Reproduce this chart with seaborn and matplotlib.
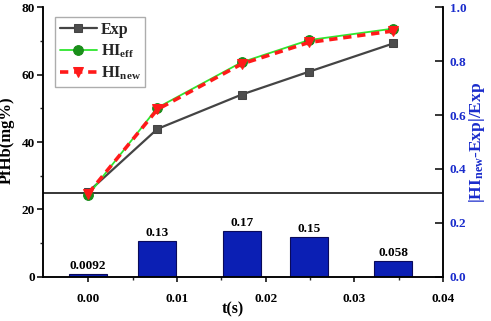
import matplotlib
matplotlib.use("Agg")
import matplotlib.pyplot as plt
import seaborn as sns
import numpy as np
import pandas as pd
from matplotlib.ticker import MultipleLocator, FixedLocator

# ---- data ----
t = [0.0, 0.0078, 0.0173, 0.0249, 0.0344]
exp_vals = [25.2, 43.9, 54.1, 60.9, 69.3]
hi_eff = [24.3, 50.2, 63.7, 70.3, 73.7]
hi_new = [24.7, 49.7, 63.2, 69.6, 73.0]
rel_err = [0.0092, 0.133, 0.171, 0.147, 0.058]
rel_err_labels = ["0.0092", "0.13", "0.17", "0.15", "0.058"]
separator_level = 25
left_ticks = [0, 20, 40, 60, 80]
right_ticks = [0.0, 0.2, 0.4, 0.6, 0.8, 1.0]
x_ticks = [0.00, 0.01, 0.02, 0.03, 0.04]

sns.set_theme(style="ticks")
plt.rcParams['font.family'] = ['Liberation Serif', 'DejaVu Serif']
plt.rcParams['font.weight'] = 'bold'
plt.rcParams['mathtext.fontset'] = 'custom'
plt.rcParams['mathtext.rm'] = 'Liberation Serif:bold'
plt.rcParams['mathtext.it'] = 'Liberation Serif:bold'
plt.rcParams['mathtext.bf'] = 'Liberation Serif:bold'
plt.rcParams['mathtext.default'] = 'bf'

fig = plt.figure(figsize=(4.91, 3.21), dpi=100)
ax = fig.add_axes([0.0876, 0.138, 0.8147, 0.839])
ax2 = ax.twinx()

blue = '#1a2ccc'

df = pd.DataFrame({'t': t, 'Exp': exp_vals, 'HIeff': hi_eff, 'HInew': hi_new, 'err': rel_err})

# bars on the right axis
bar_w = 0.0043
sns.barplot(data=df, x='t', y='err', ax=ax2, native_scale=True,
            width=bar_w / np.min(np.diff(t)), color='#0b1fb4',
            edgecolor='#0a0a5a', linewidth=0.8, saturation=1, zorder=1)
for xi, yi, lab in zip(t, rel_err, rel_err_labels):
    ax2.annotate(lab, (xi, yi), xytext=(0, 1.5), textcoords='offset points',
                 ha='center', va='bottom', fontsize=9.5, fontweight='bold', color='black')

# lines on the left axis
sns.lineplot(data=df, x='t', y='Exp', ax=ax, color='#444444', linewidth=1.6,
             marker='s', markersize=6, markeredgecolor='#444444',
             markerfacecolor='#4d4d4d', label='Exp', zorder=3)
sns.lineplot(data=df, x='t', y='HIeff', ax=ax, color='#2ee62e', linewidth=1.3,
             marker='o', markersize=7, markeredgecolor='#178a17',
             markerfacecolor='#1a8f1a', label='HI$_{eff}$', zorder=4)
sns.lineplot(data=df, x='t', y='HInew', ax=ax, color='#ff1a1a', linewidth=2.6,
             linestyle=(0, (2.3, 1.6)), marker='v', markersize=7.5,
             markeredgecolor='#ff1a1a', markerfacecolor='#ff1a1a',
             label='HI$_{new}$', zorder=5)
ax.axhline(separator_level, color='black', linewidth=1.1, zorder=2)

# put line axis above bar axis
ax.set_zorder(ax2.get_zorder() + 1)
ax.patch.set_visible(False)

ax.set_xlim(-0.0051, 0.04)
ax.set_ylim(0, 80)
ax2.set_ylim(0, 1.0)
ax.xaxis.set_major_locator(FixedLocator(x_ticks))
ax.xaxis.set_minor_locator(FixedLocator([0.005, 0.015, 0.025, 0.035]))
ax.set_xticklabels([f"{v:.2f}" for v in x_ticks])
ax.yaxis.set_major_locator(FixedLocator(left_ticks))
ax.yaxis.set_minor_locator(MultipleLocator(10))
ax2.yaxis.set_major_locator(FixedLocator(right_ticks))
ax2.set_yticklabels([f"{v:.1f}" for v in right_ticks])

for a in (ax, ax2):
    a.spines['top'].set_visible(False)
    for s in ('left', 'bottom', 'right'):
        a.spines[s].set_linewidth(1.1)
        a.spines[s].set_color('black')

ax.tick_params(axis='y', which='major', direction='out', length=4.5, width=1.1,
               labelsize=9.5, colors='black', pad=1.5)
ax.tick_params(axis='y', which='minor', direction='out', length=2.5, width=1.0)
ax.tick_params(axis='x', which='major', direction='out', length=3.5, width=1.1,
               labelsize=9.5, colors='black', pad=8)
ax.tick_params(axis='x', which='minor', direction='out', length=2.0, width=1.0)
ax2.tick_params(axis='y', which='major', direction='in', length=5.5, width=1.1,
                labelsize=9.5, labelcolor=blue, color='black', pad=5)
ax2.tick_params(axis='x', which='both', bottom=False, labelbottom=False)
for lab in ax.get_xticklabels() + ax.get_yticklabels() + ax2.get_yticklabels():
    lab.set_fontweight('bold')

ax.set_xlabel('t(s)', fontsize=11.5, fontweight='bold', color='black')
ax.xaxis.set_label_coords(0.474, -0.092)
ax.set_ylabel('PfHb(mg%)', fontsize=12, fontweight='bold', color='black')
ax.yaxis.set_label_coords(-0.07, 0.507)
ax2.set_ylabel('|HI$_{new}$-Exp|/Exp', fontsize=12.5, fontweight='bold', color=blue)
ax2.yaxis.set_label_coords(1.06, 0.50)
ax2.set_xlabel('')

leg = ax.legend(loc='upper left', bbox_to_anchor=(0.03, 0.964), borderaxespad=0,
                fontsize=11.5, frameon=True, fancybox=False, handlelength=2.3,
                handletextpad=0.25, labelspacing=0.3, borderpad=0.3)
leg.get_frame().set_edgecolor('#999999')
leg.get_frame().set_linewidth(1.0)
for txt in leg.get_texts():
    txt.set_fontweight('bold')
if ax2.get_legend() is not None:
    ax2.get_legend().remove()

fig.savefig('out.png', dpi=100)
